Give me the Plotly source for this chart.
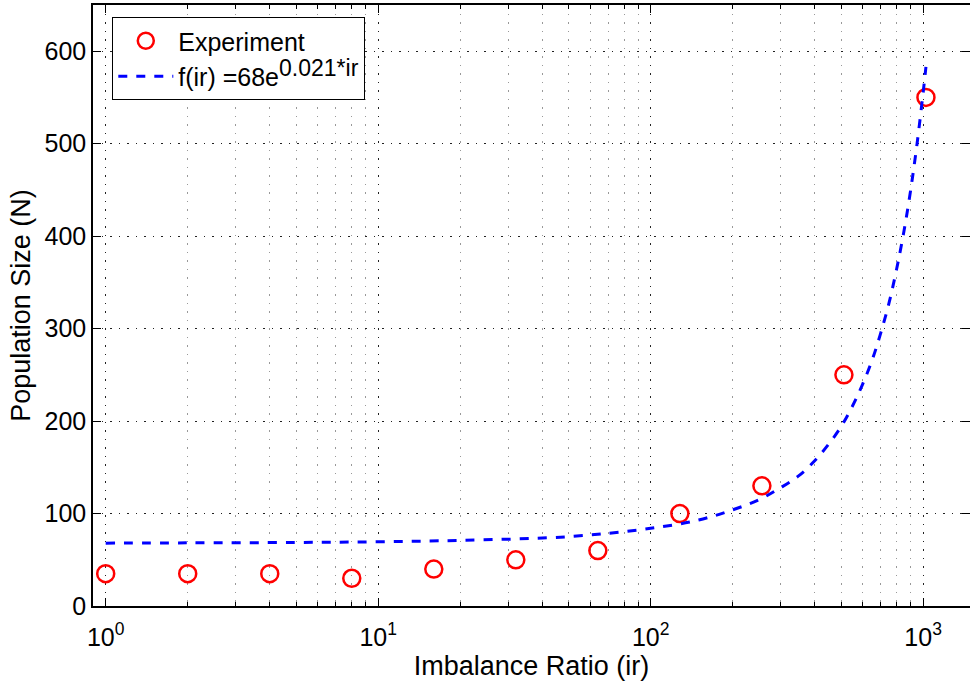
import plotly.graph_objects as go

# Experimental data
ir_exp = [1, 2, 4, 8, 16, 32, 64, 128, 256, 512, 1024]
n_exp = [35, 35, 35, 30, 40, 50, 60, 100, 130, 250, 550]

# Fitted curve
ir_fit = [1, 2, 5, 10, 20, 50, 100, 150, 200, 250, 300, 350, 400, 450, 500,
          550, 600, 650, 700, 750, 800, 850, 900, 950, 1000, 1024]
n_fit = [68, 68.3, 68.7, 69.5, 71, 75, 84, 93, 104, 115, 128, 141, 157, 175, 194,
         216, 240, 266, 296, 328, 365, 405, 450, 500, 555, 583]

x_tickvals = [1, 10, 100, 1000]
x_ticktext = ["10<sup>0</sup>", "10<sup>1</sup>", "10<sup>2</sup>", "10<sup>3</sup>"]
y_tickvals = [0, 100, 200, 300, 400, 500, 600]

fig = go.Figure()
fig.add_trace(go.Scatter(
    x=ir_exp, y=n_exp, mode="markers", name="Experiment",
    marker=dict(symbol="circle-open", size=17, color="#ff0000",
                line=dict(width=2.5, color="#ff0000")),
))
fig.add_trace(go.Scatter(
    x=ir_fit, y=n_fit, mode="lines",
    name="f(ir) =68e<sup><span style='font-size:23px'>0.021*ir</span></sup>",
    line=dict(color="#0000ff", width=3, dash="dash", shape="spline"),
))

font = "Liberation Sans, Arial, Helvetica, sans-serif"
fig.update_layout(
    width=970, height=681,
    margin=dict(l=93, r=0, t=5, b=75),
    paper_bgcolor="white", plot_bgcolor="white",
    font=dict(family=font, size=25, color="black"),
    showlegend=True,
    legend=dict(x=0.022, y=0.98, xanchor="left", yanchor="top",
                bgcolor="white", bordercolor="black", borderwidth=1,
                font=dict(size=25), itemwidth=55, tracegroupgap=0),
)
fig.update_xaxes(
    type="log", range=[-0.0466, 3.172], automargin=False,
    tickvals=x_tickvals, ticktext=x_ticktext,
    ticks="inside", ticklen=8, tickcolor="black",
    showline=True, linecolor="black", linewidth=1.5, mirror="ticks",
    showgrid=True, gridcolor="#222222", griddash="1.5px,7px", gridwidth=1,
    zeroline=False,
    tickfont=dict(size=25), ticklabelstandoff=8,
    title=dict(text="Imbalance Ratio (ir)", font=dict(size=27), standoff=4),
    minor=dict(dtick="D1", ticks="inside", ticklen=4, tickcolor="black",
               showgrid=True, gridcolor="#999999", griddash="1.5px,7px", gridwidth=1),
)
fig.update_yaxes(
    range=[0, 650], tickvals=y_tickvals, automargin=False,
    ticks="inside", ticklen=8, tickcolor="black",
    showline=True, linecolor="black", linewidth=1.5, mirror="ticks",
    showgrid=True, gridcolor="#222222", griddash="1.5px,7px", gridwidth=1,
    zeroline=False,
    tickfont=dict(size=25),
    title=dict(text="Population Size (N)", font=dict(size=27), standoff=6),
)

fig.write_html("out.html", config={"displayModeBar": False},
               post_script="document.body.style.margin='0';")
